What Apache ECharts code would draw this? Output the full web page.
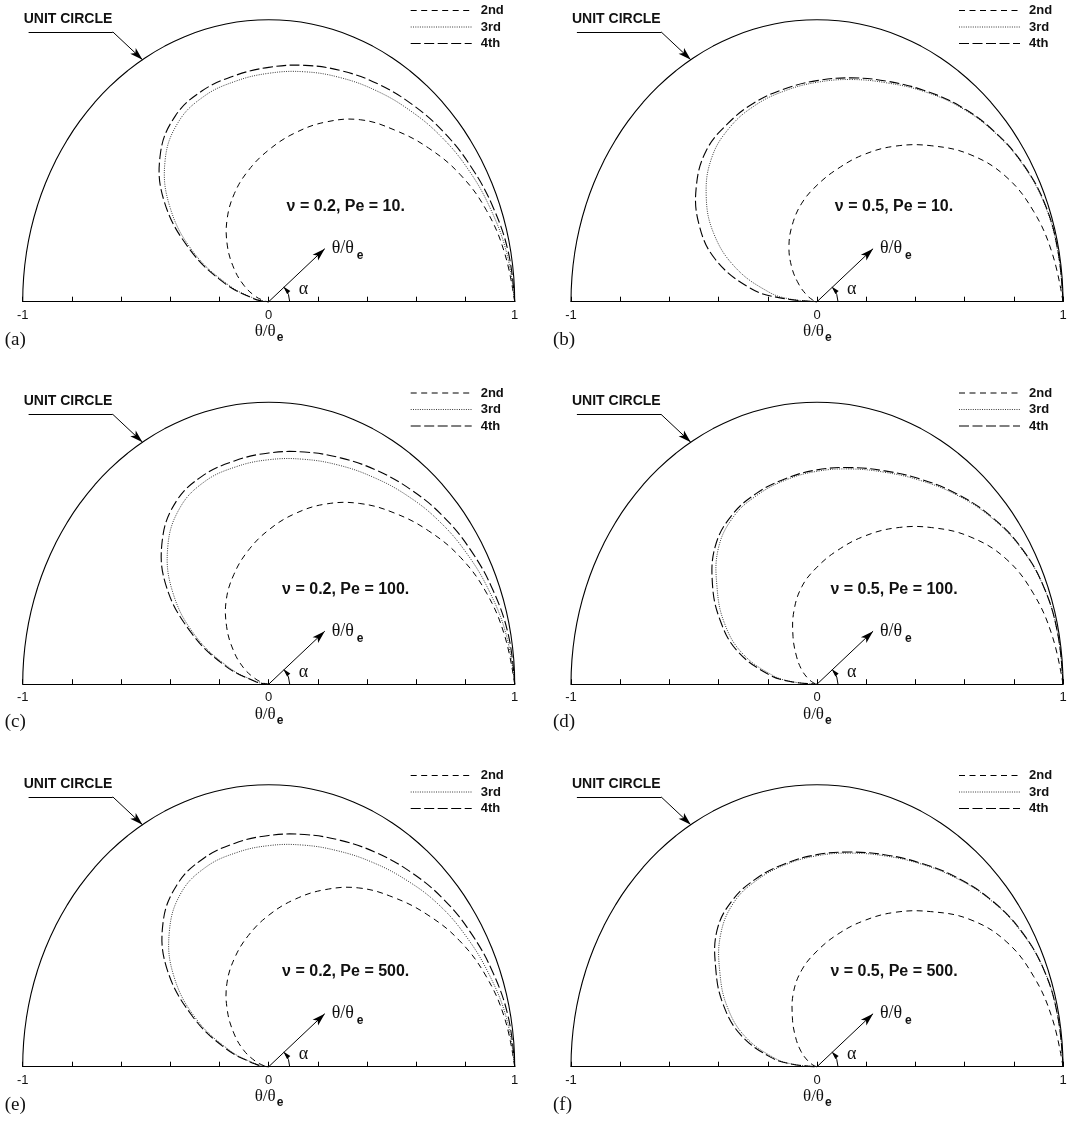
<!DOCTYPE html>
<html>
<head>
<meta charset="utf-8">
<script src="https://cdn.jsdelivr.net/npm/echarts@6/dist/echarts.min.js"></script>
<style>
  html, body { margin: 0; padding: 0; background: #fff; }
  #chart { width: 1071px; height: 1122px; }
</style>
</head>
<body>
<div id="chart"></div>
<script>
// polar angle alpha (deg) at which the radii below were read
const alphaDeg = [0, 10, 20, 30, 40, 50, 60, 70, 80, 90, 100, 110, 120, 130, 140, 150, 160, 170, 175, 180];
// unit circle, r = 1
const circleDeg = [0, 5, 10, 15, 20, 25, 30, 35, 40, 45, 50, 55, 60, 65, 70, 75, 80, 85, 90,
  95, 100, 105, 110, 115, 120, 125, 130, 135, 140, 145, 150, 155, 160, 165, 170, 175, 180];

// r = theta/theta_e at alphaDeg
// (a) nu = 0.2, Pe = 10
const a2 = [1, 0.975, 0.943, 0.9, 0.848, 0.795, 0.745, 0.678, 0.607, 0.538, 0.473, 0.408, 0.338, 0.262, 0.185, 0.117, 0.06, 0.02, 0.007, 0];
const a3 = [1, 0.983, 0.96, 0.937, 0.913, 0.888, 0.866, 0.846, 0.828, 0.81, 0.793, 0.774, 0.735, 0.655, 0.525, 0.355, 0.175, 0.055, 0.018, 0];
const a4 = [1, 0.99, 0.972, 0.952, 0.932, 0.911, 0.891, 0.871, 0.851, 0.831, 0.813, 0.795, 0.76, 0.685, 0.555, 0.37, 0.19, 0.062, 0.02, 0];
// (b) nu = 0.5, Pe = 10
const b2 = [1, 0.972, 0.937, 0.887, 0.812, 0.722, 0.637, 0.555, 0.478, 0.413, 0.355, 0.292, 0.228, 0.16, 0.097, 0.05, 0.02, 0.006, 0.002, 0];
const b3 = [1, 0.995, 0.988, 0.968, 0.938, 0.902, 0.862, 0.826, 0.8, 0.778, 0.759, 0.74, 0.712, 0.666, 0.588, 0.485, 0.352, 0.2, 0.11, 0];
const b4 = [1, 0.996, 0.99, 0.97, 0.94, 0.905, 0.866, 0.832, 0.806, 0.784, 0.766, 0.75, 0.728, 0.7, 0.64, 0.555, 0.44, 0.275, 0.145, 0];
// (c) nu = 0.2, Pe = 100
const c2 = [1, 0.975, 0.943, 0.9, 0.847, 0.793, 0.74, 0.68, 0.614, 0.547, 0.481, 0.414, 0.345, 0.266, 0.188, 0.12, 0.06, 0.02, 0.007, 0];
const c3 = [1, 0.982, 0.956, 0.929, 0.902, 0.874, 0.848, 0.827, 0.81, 0.796, 0.782, 0.764, 0.722, 0.638, 0.51, 0.345, 0.17, 0.052, 0.018, 0];
const c4 = [1, 0.99, 0.971, 0.949, 0.926, 0.9, 0.876, 0.854, 0.836, 0.82, 0.804, 0.786, 0.75, 0.672, 0.545, 0.362, 0.185, 0.058, 0.02, 0];
// (d) nu = 0.5, Pe = 100
const d2 = [1, 0.972, 0.937, 0.888, 0.813, 0.725, 0.64, 0.558, 0.482, 0.415, 0.352, 0.275, 0.195, 0.13, 0.083, 0.045, 0.018, 0.005, 0.002, 0];
const d3 = [1, 0.995, 0.985, 0.96, 0.922, 0.878, 0.835, 0.8, 0.775, 0.755, 0.735, 0.713, 0.683, 0.625, 0.53, 0.435, 0.325, 0.185, 0.1, 0];
const d4 = [1, 0.995, 0.985, 0.962, 0.925, 0.882, 0.84, 0.805, 0.78, 0.76, 0.74, 0.72, 0.692, 0.642, 0.555, 0.455, 0.345, 0.2, 0.11, 0];
// (e) nu = 0.2, Pe = 500
const e2 = [1, 0.975, 0.94, 0.895, 0.84, 0.785, 0.732, 0.668, 0.602, 0.537, 0.473, 0.408, 0.34, 0.262, 0.185, 0.118, 0.058, 0.02, 0.007, 0];
const e3 = [1, 0.982, 0.954, 0.926, 0.898, 0.866, 0.838, 0.815, 0.798, 0.784, 0.77, 0.752, 0.712, 0.628, 0.505, 0.342, 0.168, 0.052, 0.018, 0];
const e4 = [1, 0.99, 0.971, 0.949, 0.926, 0.9, 0.876, 0.854, 0.836, 0.82, 0.804, 0.784, 0.745, 0.668, 0.54, 0.358, 0.183, 0.058, 0.02, 0];
// (f) nu = 0.5, Pe = 500
const f2 = [1, 0.972, 0.937, 0.888, 0.812, 0.718, 0.632, 0.55, 0.476, 0.41, 0.35, 0.28, 0.2, 0.135, 0.085, 0.045, 0.018, 0.005, 0.002, 0];
const f3 = [1, 0.995, 0.985, 0.958, 0.92, 0.875, 0.832, 0.796, 0.769, 0.748, 0.728, 0.706, 0.674, 0.61, 0.515, 0.42, 0.31, 0.175, 0.095, 0];
const f4 = [1, 0.995, 0.985, 0.96, 0.922, 0.878, 0.835, 0.8, 0.773, 0.752, 0.732, 0.712, 0.684, 0.632, 0.537, 0.44, 0.33, 0.19, 0.1, 0];

const seriesNames = ['2nd', '3rd', '4th'];

const panels = [
  { tag: '(a)', nu: '0.2', pe: '10.',  left: 22.7, top: 19.7,  curves: [a2, a3, a4] },
  { tag: '(b)', nu: '0.5', pe: '10.',  left: 571,  top: 19.7,  curves: [b2, b3, b4] },
  { tag: '(c)', nu: '0.2', pe: '100.', left: 22.7, top: 402.2, curves: [c2, c3, c4] },
  { tag: '(d)', nu: '0.5', pe: '100.', left: 571,  top: 402.2, curves: [d2, d3, d4] },
  { tag: '(e)', nu: '0.2', pe: '500.', left: 22.7, top: 784.7, curves: [e2, e3, e4] },
  { tag: '(f)', nu: '0.5', pe: '500.', left: 571,  top: 784.7, curves: [f2, f3, f4] }
];

const W = 492, H = 282;
const SANS = '"Liberation Sans", Arial, sans-serif';
const SERIF = '"Liberation Serif", "Times New Roman", serif';

const lineStyles = [
  { color: '#000', width: 1, dash: [6, 4.5] },
  { color: '#222', width: 0.9, dash: [1, 1.3] },
  { color: '#000', width: 1.1, dash: [10, 3.5] }
];

// polar (deg, r) -> [x, y]
const toXY = (deg, r) => {
  const t = (deg * Math.PI) / 180;
  return [r * Math.cos(t), r * Math.sin(t)];
};
const circle = circleDeg.map((d) => toXY(d, 1));

const grid = [], xAxis = [], yAxis = [], series = [], graphic = [];

const txt = (x, y, text, font, align) => ({
  type: 'text', x, y, silent: true,
  style: { text, font, fill: '#111', align: align || 'center', verticalAlign: 'middle',
           textAlign: align || 'center', textVerticalAlign: 'middle' }
});

// a curve drawn once through all its points as a spline
const curveSeries = (name, pts, st, i) => ({
  name, type: 'custom', xAxisIndex: i, yAxisIndex: i, data: pts, silent: true, clip: false,
  renderItem: (params, api) => {
    if (params.dataIndex !== 0) return null;
    return {
      type: 'polyline',
      shape: { points: pts.map((d) => api.coord(d)), smooth: 0.4 },
      style: { stroke: st.color, lineWidth: st.width, lineDash: st.dash, fill: null }
    };
  }
});

panels.forEach((p, i) => {
  grid.push({ left: p.left, top: p.top, width: W, height: H });
  xAxis.push({
    gridIndex: i, type: 'value', min: -1, max: 1, interval: 0.2,
    axisLine: { lineStyle: { color: '#000', width: 1.2 } },
    axisTick: { inside: true, length: 5, lineStyle: { color: '#000', width: 1 } },
    splitLine: { show: false },
    axisLabel: {
      margin: 7, color: '#111', fontSize: 13, fontFamily: SANS,
      formatter: (v) => (Math.abs(v + 1) < 1e-6 ? '-1' : Math.abs(v) < 1e-6 ? '0' : Math.abs(v - 1) < 1e-6 ? '1' : '')
    }
  });
  yAxis.push({ gridIndex: i, type: 'value', min: 0, max: 1, show: false });

  series.push({
    type: 'line', xAxisIndex: i, yAxisIndex: i, data: circle, smooth: true,
    symbol: 'none', clip: false, silent: true,
    lineStyle: { color: '#000', width: 1.1 },
    markLine: {
      silent: true, animation: false, label: { show: false },
      lineStyle: { color: '#000', width: 1, type: 'solid' },
      symbol: 'none',
      data: [
        [{ coord: [-0.976, 0.957], symbol: 'none' }, { coord: [-0.634, 0.957], symbol: 'none' }],
        [{ coord: [-0.634, 0.957], symbol: 'none' }, { coord: [-0.513, 0.858], symbol: 'arrow', symbolSize: [6, 13] }],
        [{ coord: [0, 0], symbol: 'none' }, { coord: [0.228, 0.188], symbol: 'arrow', symbolSize: [6, 13] }]
      ]
    }
  });

  p.curves.forEach((radii, k) => {
    const pts = radii.map((r, j) => toXY(alphaDeg[j], r));
    series.push(curveSeries(seriesNames[k], pts, lineStyles[k], i));
  });

  // key: line sample + label
  seriesNames.forEach((nm, k) => {
    const y = p.top - 9.2 + k * 16.5;
    const st = lineStyles[k];
    graphic.push({
      type: 'line', silent: true,
      shape: { x1: p.left + 388, y1: y, x2: p.left + 449, y2: y },
      style: { stroke: st.color, lineWidth: st.width, lineDash: st.dash }
    });
    graphic.push(txt(p.left + 458, y, nm, 'bold 13px ' + SANS, 'left'));
  });

  const ox = p.left + W / 2, oy = p.top + H;
  graphic.push(txt(p.left + 1, p.top - 1, 'UNIT CIRCLE', 'bold 14px ' + SANS, 'left'));
  graphic.push(txt(ox + 77, oy - 95, '\u03bd = ' + p.nu + ', Pe = ' + p.pe, 'bold 16px ' + SANS));
  // arrow label theta/theta_e
  graphic.push(txt(ox + 63, oy - 53, '\u03b8/\u03b8', '18px ' + SERIF, 'left'));
  graphic.push(txt(ox + 88, oy - 46, 'e', 'bold 12px ' + SANS, 'left'));
  // axis name
  graphic.push(txt(ox - 14, oy + 30, '\u03b8/\u03b8', '17px ' + SERIF, 'left'));
  graphic.push(txt(ox + 8, oy + 36, 'e', 'bold 12px ' + SANS, 'left'));
  graphic.push(txt(p.left - 18, oy + 38, p.tag, '19px ' + SERIF, 'left'));
  // alpha arc with arrow head
  graphic.push({
    type: 'arc', silent: true,
    shape: { cx: ox, cy: oy, r: 21, startAngle: -0.7, endAngle: 0 },
    style: { stroke: '#000', fill: null, lineWidth: 1 }
  });
  graphic.push({
    type: 'polygon', silent: true,
    shape: { points: [[ox + 14.6, oy - 15.1], [ox + 21.6, oy - 10.6], [ox + 18.4, oy - 7.6]] },
    style: { fill: '#000' }
  });
  graphic.push(txt(ox + 30, oy - 12, '\u03b1', '18px ' + SERIF, 'left'));
});

const chart = echarts.init(document.getElementById('chart'), null, { renderer: 'canvas' });
chart.setOption({
  backgroundColor: '#fff',
  animation: false,
  grid, xAxis, yAxis, series, graphic
});
</script>
</body>
</html>
